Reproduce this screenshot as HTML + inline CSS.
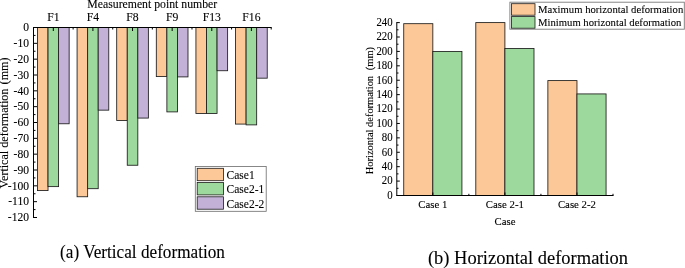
<!DOCTYPE html>
<html><head><meta charset="utf-8"><title>Deformation charts</title>
<style>
html,body{margin:0;padding:0;background:#fff;}
body{width:685px;height:268px;overflow:hidden;}
svg{display:block;}
svg text{filter:grayscale(1);font-family:"Liberation Serif",serif;fill:#000;stroke:#000;stroke-width:0.1px;}
</style></head><body>
<svg width="685" height="268" viewBox="0 0 685 268">
<rect width="685" height="268" fill="#fff"/>
<g stroke="#1c1c1c" stroke-width="0.85">
<rect x="37.46" y="27.50" width="10.56" height="163.08" fill="#FDC897"/>
<rect x="48.03" y="27.50" width="10.56" height="159.12" fill="#9DD89D"/>
<rect x="58.59" y="27.50" width="10.56" height="96.27" fill="#C3B1D8"/>
<rect x="77.08" y="27.50" width="10.56" height="169.26" fill="#FDC897"/>
<rect x="87.64" y="27.50" width="10.56" height="161.18" fill="#9DD89D"/>
<rect x="98.21" y="27.50" width="10.56" height="82.65" fill="#C3B1D8"/>
<rect x="116.70" y="27.50" width="10.56" height="92.94" fill="#FDC897"/>
<rect x="127.26" y="27.50" width="10.56" height="137.75" fill="#9DD89D"/>
<rect x="137.82" y="27.50" width="10.56" height="90.57" fill="#C3B1D8"/>
<rect x="156.31" y="27.50" width="10.56" height="49.08" fill="#FDC897"/>
<rect x="166.88" y="27.50" width="10.56" height="84.39" fill="#9DD89D"/>
<rect x="177.44" y="27.50" width="10.56" height="49.40" fill="#C3B1D8"/>
<rect x="195.93" y="27.50" width="10.56" height="85.97" fill="#FDC897"/>
<rect x="206.49" y="27.50" width="10.56" height="85.97" fill="#9DD89D"/>
<rect x="217.06" y="27.50" width="10.56" height="43.23" fill="#C3B1D8"/>
<rect x="235.55" y="27.50" width="10.56" height="96.58" fill="#FDC897"/>
<rect x="246.11" y="27.50" width="10.56" height="97.38" fill="#9DD89D"/>
<rect x="256.67" y="27.50" width="10.56" height="50.67" fill="#C3B1D8"/>
</g>
<g stroke="#000" stroke-width="1" fill="none">
<path d="M33.00 27.50 H271.70"/>
<path d="M33.50 27.50 V218.00"/>
<path d="M33.50 27.50 h3.5 M33.50 35.42 h2 M33.50 43.33 h3.5 M33.50 51.25 h2 M33.50 59.17 h3.5 M33.50 67.08 h2 M33.50 75.00 h3.5 M33.50 82.92 h2 M33.50 90.83 h3.5 M33.50 98.75 h2 M33.50 106.67 h3.5 M33.50 114.58 h2 M33.50 122.50 h3.5 M33.50 130.42 h2 M33.50 138.33 h3.5 M33.50 146.25 h2 M33.50 154.17 h3.5 M33.50 162.08 h2 M33.50 170.00 h3.5 M33.50 177.92 h2 M33.50 185.83 h3.5 M33.50 193.75 h2 M33.50 201.67 h3.5 M33.50 209.58 h2 M33.50 217.50 h3.5 "/>
<path d="M53.31 27.50 v3.5 M73.12 27.50 v2 M92.92 27.50 v3.5 M112.73 27.50 v2 M132.54 27.50 v3.5 M152.35 27.50 v2 M172.16 27.50 v3.5 M191.97 27.50 v2 M211.78 27.50 v3.5 M231.58 27.50 v2 M251.39 27.50 v3.5 M271.20 27.50 v2 "/>
</g>
<g font-size="12.20" text-anchor="end">
<text transform="translate(29.00,31.20) scale(0.950,1.100)" >0</text>
<text transform="translate(29.00,47.03) scale(0.950,1.100)" >-10</text>
<text transform="translate(29.00,62.87) scale(0.950,1.100)" >-20</text>
<text transform="translate(29.00,78.70) scale(0.950,1.100)" >-30</text>
<text transform="translate(29.00,94.53) scale(0.950,1.100)" >-40</text>
<text transform="translate(29.00,110.37) scale(0.950,1.100)" >-50</text>
<text transform="translate(29.00,126.20) scale(0.950,1.100)" >-60</text>
<text transform="translate(29.00,142.03) scale(0.950,1.100)" >-70</text>
<text transform="translate(29.00,157.87) scale(0.950,1.100)" >-80</text>
<text transform="translate(29.00,173.70) scale(0.950,1.100)" >-90</text>
<text transform="translate(29.00,189.53) scale(0.950,1.100)" >-100</text>
<text transform="translate(29.00,205.37) scale(0.950,1.100)" >-110</text>
<text transform="translate(29.00,221.20) scale(0.950,1.100)" >-120</text>
</g>
<g font-size="11.7" text-anchor="middle">
<text transform="translate(53.31,20.50) scale(1.000,1.070)" >F1</text>
<text transform="translate(92.92,20.50) scale(1.000,1.070)" >F4</text>
<text transform="translate(132.54,20.50) scale(1.000,1.070)" >F8</text>
<text transform="translate(172.16,20.50) scale(1.000,1.070)" >F9</text>
<text transform="translate(211.78,20.50) scale(1.000,1.070)" >F13</text>
<text transform="translate(251.39,20.50) scale(1.000,1.070)" >F16</text>
<text transform="translate(152.25,8.10) scale(1.000,1.070)" font-size="11.77">Measurement point number</text>
</g>
<g transform="translate(7.5,0) rotate(-90)" font-size="12.1"><text x="-188.4" y="0">Vertical deformation</text><text x="-57.5" y="0" text-anchor="end">(mm)</text></g>
<rect x="195.3" y="166.4" width="70.9" height="44.9" fill="#fff" stroke="#6a6a6a" stroke-width="0.8"/>
<rect x="197.2" y="168.30" width="26.4" height="12.4" fill="#FDC897" stroke="#1c1c1c" stroke-width="0.8"/>
<text x="226.6" y="178.80" font-size="11.5">Case1</text>
<rect x="197.2" y="182.50" width="26.4" height="12.4" fill="#9DD89D" stroke="#1c1c1c" stroke-width="0.8"/>
<text x="226.6" y="193.30" font-size="11.5">Case2-1</text>
<rect x="197.2" y="196.80" width="26.4" height="12.4" fill="#C3B1D8" stroke="#1c1c1c" stroke-width="0.8"/>
<text x="226.6" y="207.90" font-size="11.5">Case2-2</text>
<text transform="translate(60.10,257.90) scale(1.000,1.050)" font-size="17.2">(a) Vertical deformation</text>
<g stroke="#1c1c1c" stroke-width="0.85">
<rect x="403.73" y="23.68" width="29.10" height="171.82" fill="#FDC897"/>
<rect x="432.83" y="51.42" width="29.10" height="144.08" fill="#9DD89D"/>
<rect x="475.80" y="22.60" width="29.10" height="172.90" fill="#FDC897"/>
<rect x="504.90" y="48.53" width="29.10" height="146.97" fill="#9DD89D"/>
<rect x="547.87" y="80.59" width="29.10" height="114.91" fill="#FDC897"/>
<rect x="576.97" y="93.92" width="29.10" height="101.58" fill="#9DD89D"/>
</g>
<g stroke="#000" stroke-width="1" fill="none">
<path d="M396.30 195.50 H613.50"/>
<path d="M396.80 22.10 V195.50"/>
<path d="M396.80 195.50 h3 M396.80 188.30 h1.7 M396.80 181.09 h3 M396.80 173.89 h1.7 M396.80 166.68 h3 M396.80 159.48 h1.7 M396.80 152.28 h3 M396.80 145.07 h1.7 M396.80 137.87 h3 M396.80 130.66 h1.7 M396.80 123.46 h3 M396.80 116.25 h1.7 M396.80 109.05 h3 M396.80 101.85 h1.7 M396.80 94.64 h3 M396.80 87.44 h1.7 M396.80 80.23 h3 M396.80 73.03 h1.7 M396.80 65.82 h3 M396.80 58.62 h1.7 M396.80 51.42 h3 M396.80 44.21 h1.7 M396.80 37.01 h3 M396.80 29.80 h1.7 M396.80 22.60 h3 "/>
<path d="M432.83 195.50 v-3 M468.87 195.50 v-1.7 M504.90 195.50 v-3 M540.93 195.50 v-1.7 M576.97 195.50 v-3 M613.00 195.50 v-1.7 "/>
</g>
<g font-size="10.80" text-anchor="end">
<text transform="translate(392.60,198.80) scale(1.000,1.090)" >0</text>
<text transform="translate(392.60,184.39) scale(1.000,1.090)" >20</text>
<text transform="translate(392.60,169.98) scale(1.000,1.090)" >40</text>
<text transform="translate(392.60,155.58) scale(1.000,1.090)" >60</text>
<text transform="translate(392.60,141.17) scale(1.000,1.090)" >80</text>
<text transform="translate(392.60,126.76) scale(1.000,1.090)" >100</text>
<text transform="translate(392.60,112.35) scale(1.000,1.090)" >120</text>
<text transform="translate(392.60,97.94) scale(1.000,1.090)" >140</text>
<text transform="translate(392.60,83.53) scale(1.000,1.090)" >160</text>
<text transform="translate(392.60,69.12) scale(1.000,1.090)" >180</text>
<text transform="translate(392.60,54.72) scale(1.000,1.090)" >200</text>
<text transform="translate(392.60,40.31) scale(1.000,1.090)" >220</text>
<text transform="translate(392.60,25.90) scale(1.000,1.090)" >240</text>
</g>
<g font-size="10.80" text-anchor="middle">
<text x="432.83" y="208.00">Case 1</text>
<text x="504.90" y="208.00">Case 2-1</text>
<text x="576.97" y="208.00">Case 2-2</text>
<text x="505" y="225">Case</text>
</g>
<g transform="translate(372.5,0) rotate(-90)" font-size="10.45"><text x="-174.2" y="0">Horizontal deformation</text><text x="-47.0" y="0" text-anchor="end">(mm)</text></g>
<rect x="509.9" y="2.2" width="174.4" height="27" fill="#fff" stroke="#7a7a7a" stroke-width="0.9"/>
<rect x="511.5" y="3.70" width="23.5" height="11.50" fill="#FDC897" stroke="#1c1c1c" stroke-width="0.8"/>
<text x="538.0" y="12.90" font-size="10.68">Maximum horizontal deformation</text>
<rect x="511.5" y="16.60" width="23.5" height="11.60" fill="#9DD89D" stroke="#1c1c1c" stroke-width="0.8"/>
<text x="538.0" y="25.60" font-size="10.68">Minimum horizontal deformation</text>
<text transform="translate(427.90,264.20) scale(1.000,1.035)" font-size="18.5">(b) Horizontal deformation</text>
</svg>
</body></html>
